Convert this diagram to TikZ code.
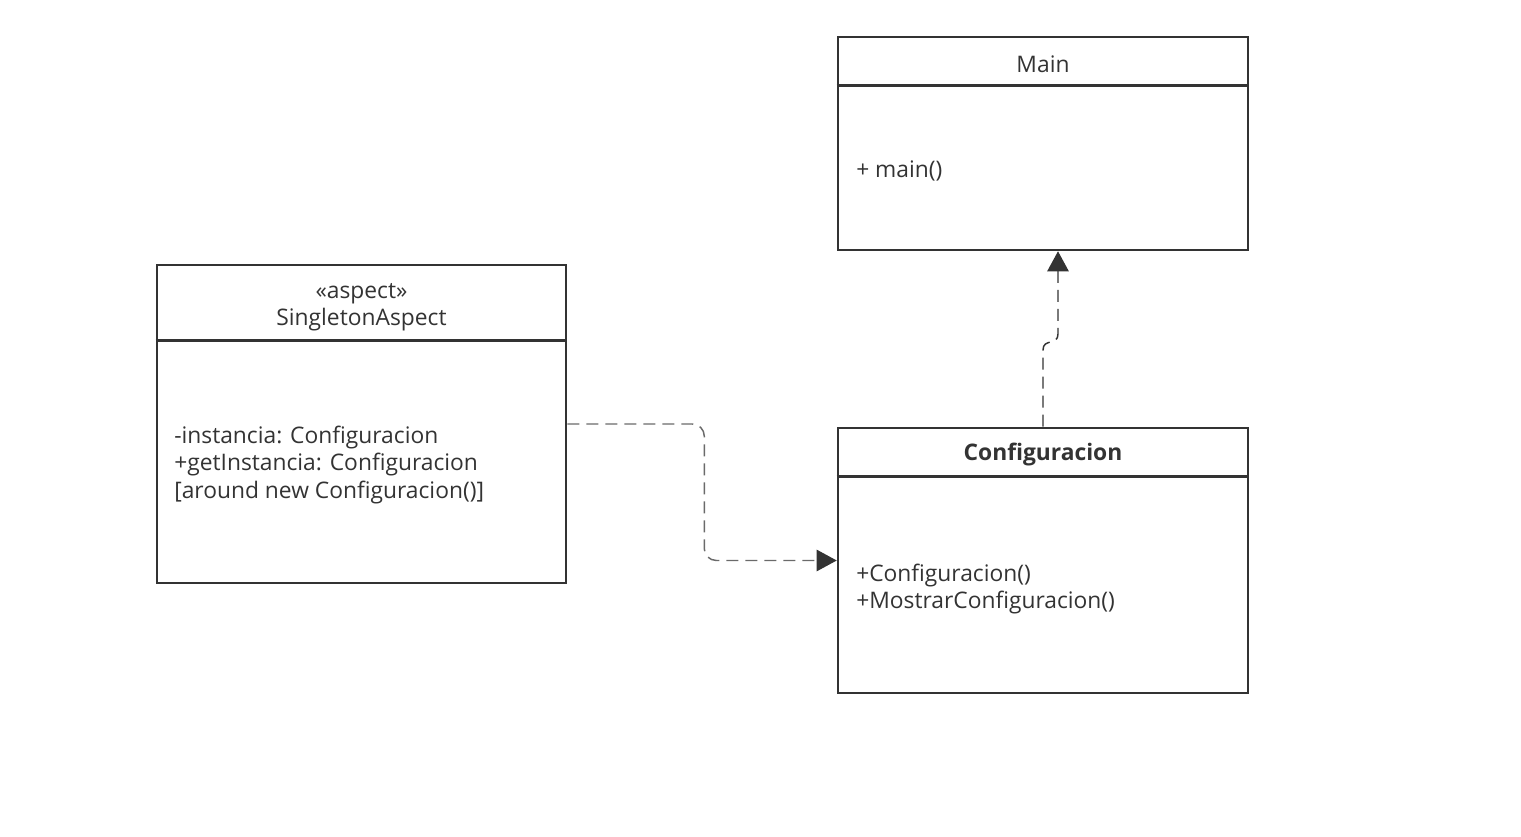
\documentclass[tikz,border=0pt]{standalone}
\usepackage{fontspec}
\setmainfont{Open Sans}
\usetikzlibrary{arrows.meta}
\definecolor{umlline}{HTML}{333333}
\definecolor{umldash}{HTML}{6A6A6A}

\begin{document}
\begin{tikzpicture}[x=0.75pt,y=0.75pt,yscale=-1,xscale=1,
  classbox/.style={draw=umlline, line width=1.9pt, inner sep=0pt},
  compartment/.style={draw=umlline, line width=1.9pt},
  txt/.style={inner sep=0.75pt, text=umlline, font=\fontsize{17.1}{20.6}\selectfont},
  dep/.style={dash pattern={on 9pt off 5.25pt}, line width=1.1pt, -{Triangle[length=15pt,width=16pt,color=umlline,fill=umlline]}}]
\path[use as bounding box] (0,0) rectangle (1521,837);

%Class Main
\node [classbox, minimum width=307.5pt, minimum height=159.75pt] (main) at (1043,143.5) {};
\draw [compartment] (main.north west) ++(0,50) -- ++(410,0);
%Class SingletonAspect
\node [classbox, minimum width=306.75pt, minimum height=238.5pt] (aspect) at (361.5,424) {};
\draw [compartment] (aspect.north west) ++(0,77) -- ++(409,0);
%Class Configuracion
\node [classbox, minimum width=307.5pt, minimum height=198.75pt] (conf) at (1043,560.5) {};
\draw [compartment] (conf.north west) ++(0,50) -- ++(410,0);

% Text Node
\node [txt] (mainname) at (1043,64) {Main};
% Text Node
\node [txt, anchor=west] (mainops) at (855,171) {+ main()};
% Text Node
\node [txt, align=center] (aspectname) at (361.5,307) {«aspect»\\SingletonAspect};
% Text Node
\node [txt, anchor=west, align=left] (aspectops) at (173,465) {-instancia: Configuracion\\+getInstancia: Configuracion\\{[around new Configuracion()]}};
% Text Node
\node [txt, font=\fontsize{17.1}{20.6}\selectfont\bfseries] (confname) at (1043,455) {Configuracion};
% Text Node
\node [txt, anchor=west, align=left] (confops) at (855,589) {+Configuracion()\\+MostrarConfiguracion()};

%Dependency aspect -> Configuracion
\draw [dep, umldash, rounded corners=9pt] (aspect.east) -- ++(137,0) |- (conf.west);
%Dependency Configuracion -> Main
\draw [dep, umlline] (conf.north) -- (1043,350) .. controls (1043,338) and (1058,346) .. (1058,334) -- ([xshift=11.25pt]main.south);
\end{tikzpicture}
\end{document}
